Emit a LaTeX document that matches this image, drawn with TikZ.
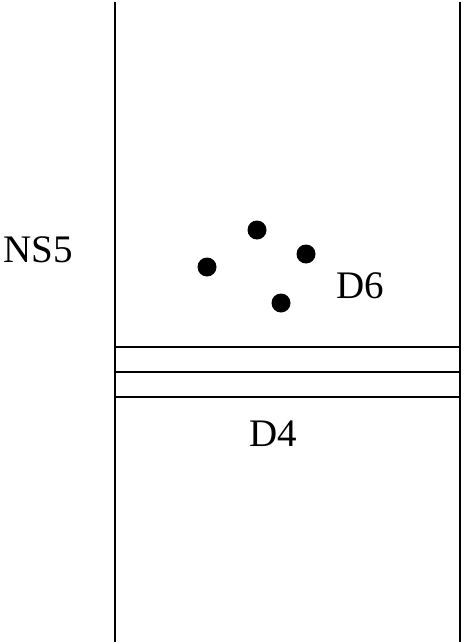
\documentclass[tikz,border=0pt]{standalone}
\usepackage{fontspec}
\setmainfont{Liberation Serif}
\begin{document}
\begin{tikzpicture}[x=1pt,y=-1pt,
  wall/.style={line width=1.3pt},
  brane/.style={line width=1.1pt},
  dot/.style={circle,fill=black,inner sep=0pt,minimum size=19pt},
  lbl/.style={anchor=base west,inner sep=0pt,font=\fontsize{39}{40}\selectfont}]
\useasboundingbox (0,0) rectangle (463,642);
\coordinate (lt) at (115,2);
\coordinate (lb) at (115,642);
\coordinate (rt) at (460,2);
\coordinate (rb) at (460,642);
\draw[wall] (lt) -- (lb);
\draw[wall] (rt) -- (rb);
\coordinate (h1l) at (115,347); \coordinate (h1r) at (460,347);
\coordinate (h2l) at (115,372); \coordinate (h2r) at (460,372);
\coordinate (h3l) at (115,397); \coordinate (h3r) at (460,397);
\draw[brane] (h1l) -- (h1r);
\draw[brane] (h2l) -- (h2r);
\draw[brane] (h3l) -- (h3r);
\node[dot] (d1) at (257,230) {};
\node[dot] (d2) at (306,254) {};
\node[dot] (d3) at (207,267) {};
\node[dot] (d4) at (281,303) {};
\node[lbl] (ns5) at (3,262) {NS5};
\node[lbl] (d6) at (336,298) {D6};
\node[lbl] (dfour) at (249,446) {D4};
\end{tikzpicture}
\end{document}
